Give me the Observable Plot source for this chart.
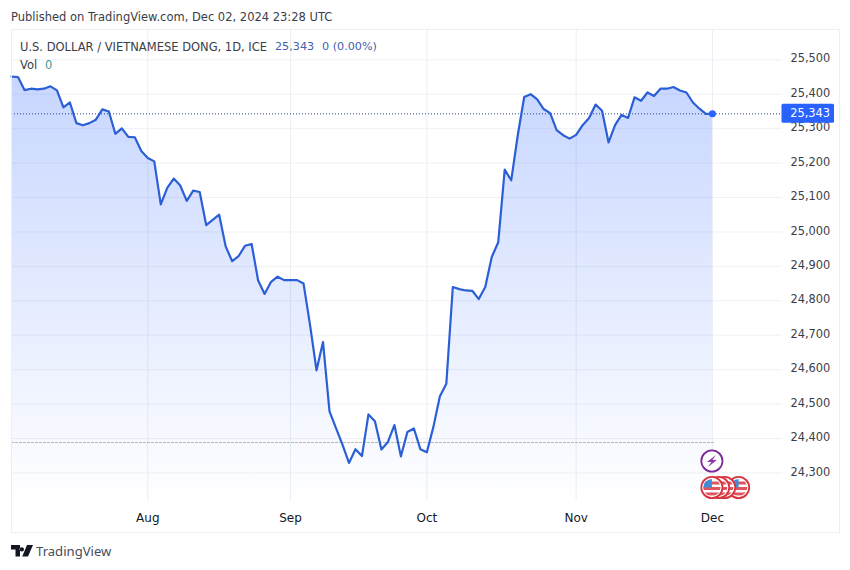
<!DOCTYPE html>
<html><head><meta charset="utf-8">
<script src="https://cdn.jsdelivr.net/npm/d3@7"></script>
<script src="https://cdn.jsdelivr.net/npm/@observablehq/plot@0.6"></script>
<style>
html,body{margin:0;padding:0;background:#fff;width:850px;height:570px;overflow:hidden;font-family:"DejaVu Sans",sans-serif}
#wrap{position:relative;width:850px;height:570px}
#wrap svg.plot{position:absolute;left:0;top:0;background:transparent}
.t{position:absolute;white-space:pre;font-size:11.5px;color:#3a3e49;line-height:14px}
#frame{position:absolute;left:11px;top:29px;width:827px;height:502px;border:1px solid #eceef2}
</style></head><body><div id="wrap">
<div id="frame"></div>
<div class="t" style="left:11px;top:10px">Published on TradingView.com, Dec 02, 2024 23:28 UTC</div>
<div class="t" style="left:20px;top:40px">U.S. DOLLAR / VIETNAMESE DONG, 1D, ICE</div>
<div class="t" style="left:275px;top:40px;color:#3f5fae;font-size:11.2px">25,343</div>
<div class="t" style="left:322px;top:40px;color:#3f5fae;font-size:11.2px">0 (0.00%)</div>
<div class="t" style="left:20px;top:58px">Vol</div>
<div class="t" style="left:45px;top:58px;color:#3f9a94">0</div>
<svg style="position:absolute;left:11px;top:545px" width="22" height="12" viewBox="0 0 22 12"><path d="M0 0H9V11.500H4.500V4.500H0Z M10.800 2.200a2.200 2.200 0 1 0 .01 0Z M16 0H22L17 11.500H11.200Z" fill="#131722"/></svg>
<div class="t" style="left:36px;top:543px;font-size:13.1px;line-height:16px;color:#4a4e59;font-family:'Noto Sans',sans-serif">TradingView</div>
</div>
<script>
const closes = [25451,25450,25412,25416,25414,25416,25423,25411,25362,25376,25316,25310,25316,25326,25356,25350,25285,25301,25276,25275,25235,25215,25205,25080,25128,25155,25135,25090,25120,25116,25020,25035,25050,24958,24915,24930,24960,24965,24859,24820,24855,24870,24860,24860,24860,24850,24730,24598,24680,24479,24430,24382,24329,24369,24349,24470,24450,24368,24390,24439,24348,24419,24429,24369,24360,24433,24522,24559,24840,24834,24830,24829,24805,24840,24927,24970,25181,25150,25280,25392,25400,25385,25357,25345,25296,25281,25271,25282,25310,25331,25370,25352,25260,25310,25340,25331,25391,25381,25405,25395,25416,25416,25421,25411,25405,25376,25358,25343,25343];
const monthPositions = [21,43,64,87,108];
const monthLabels = ["Aug","Sep","Oct","Nov","Dec"];
const priceTicks = [25500,25400,25300,25200,25100,25000,24900,24800,24700,24600,24500,24400,24300];
const lastPrice = 25343;
const openPrice = 24388.5;
const base = 24217;
const xDomain = [0,118.8];
const yDomain = [24217,25588];

const fmt = d3.format(",");
const defs = () => {
  const g = d3.create("svg:g");
  const lg = g.append("defs").append("linearGradient").attr("id","areaFill").attr("x1",0).attr("x2",0).attr("y1",0).attr("y2",1);
  lg.append("stop").attr("offset",0).attr("stop-color","#2962ff").attr("stop-opacity",0.26);
  lg.append("stop").attr("offset",1).attr("stop-color","#2962ff").attr("stop-opacity",0);
  return g.node();
};
const priceLabel = (i,{y}) => {
  const g = d3.create("svg:g");
  const py = y(lastPrice);
  g.append("rect").attr("x",781.5).attr("y",py-9.5).attr("width",52.5).attr("height",19).attr("rx",1.5).attr("fill","#2962ff");
  g.append("text").attr("x",830).attr("y",py).attr("dy","0.35em").attr("text-anchor","end").attr("fill","#fff").attr("font-size",11.4).text(fmt(lastPrice));
  return g.node();
};
const badges = (i,{x}) => {
  const g = d3.create("svg:g");
  const cx = x(108);
  const defsEl = g.append("defs");
  [26.7,12.7,6.7,0].forEach((off,k)=>{
    const id = "flag"+k, c = cx+off, cy = 487.5;
    defsEl.append("clipPath").attr("id",id).append("circle").attr("cx",c).attr("cy",cy).attr("r",8.6);
    g.append("circle").attr("cx",c).attr("cy",cy).attr("r",10.6).attr("fill","#fff").attr("stroke","#d8343f").attr("stroke-width",1.8);
    const f = g.append("g").attr("clip-path",`url(#${id})`);
    f.append("rect").attr("x",c-10).attr("y",cy-10).attr("width",20).attr("height",20).attr("fill","#fff");
    [-6,-0.5,5].forEach(d=>f.append("rect").attr("x",c-10).attr("y",cy+d).attr("width",20).attr("height",3).attr("fill","#e0545c"));
    f.append("rect").attr("x",c-10).attr("y",cy-10).attr("width",10).attr("height",10).attr("fill","#3f8fd8");
  });
  g.append("circle").attr("cx",cx).attr("cy",461).attr("r",10.6).attr("fill","#fff").attr("stroke","#7b2a96").attr("stroke-width",1.8);
  g.append("path").attr("d",`M${cx+4} ${461-6}L${cx-5} ${461+1}H${cx-0.5}L${cx-4} ${461+6}L${cx+5} ${461-1}H${cx+0.5}Z`).attr("fill","#8e35b0");
  return g.node();
};

const chart = Plot.plot({
  width:850,height:570,
  marginLeft:11,marginRight:68,marginTop:29,marginBottom:69,
  style:{fontFamily:'"DejaVu Sans",sans-serif',background:"transparent"},
  x:{domain:xDomain,axis:null},
  y:{domain:yDomain,axis:null},
  marks:[
    defs,
    Plot.gridY(priceTicks,{stroke:"#eff1f5",strokeOpacity:1}),
    Plot.gridX(monthPositions,{stroke:"#ebedf4",strokeOpacity:1}),
    Plot.areaY(closes,{x:(d,i)=>i,y1:()=>base,y2:d=>d,fill:"url(#areaFill)"}),
    Plot.ruleY([openPrice],{x1:0,x2:108.4,stroke:"#dda6a6",strokeWidth:1,strokeDasharray:"3,5"}),
    Plot.ruleY([openPrice],{x1:0,x2:108.4,stroke:"#9cc4be",strokeWidth:1,strokeDasharray:"3,5",strokeDashoffset:4}),
    Plot.ruleY([lastPrice],{stroke:"#2a3f8f",strokeWidth:1,strokeDasharray:"1,2"}),
    Plot.line(closes,{x:(d,i)=>i,y:d=>d,stroke:"#2b5fd6",strokeWidth:2.2,curve:"linear"}),
    Plot.dot([lastPrice],{x:()=>108,y:d=>d,r:3.5,fill:"#2962ff"}),
    Plot.axisY(priceTicks,{anchor:"right",tickSize:0,tickPadding:8,tickFormat:fmt,fontSize:11.4,fill:"#3a3e49",label:null,dy:-1}),
    Plot.axisX(monthPositions,{anchor:"bottom",tickSize:0,tickPadding:12,tickFormat:(d)=>monthLabels[monthPositions.indexOf(d)],fontSize:12,fill:"#131722",label:null}),
    priceLabel,
    badges
  ]
});
document.getElementById("wrap").appendChild(chart);
</script></body></html>
